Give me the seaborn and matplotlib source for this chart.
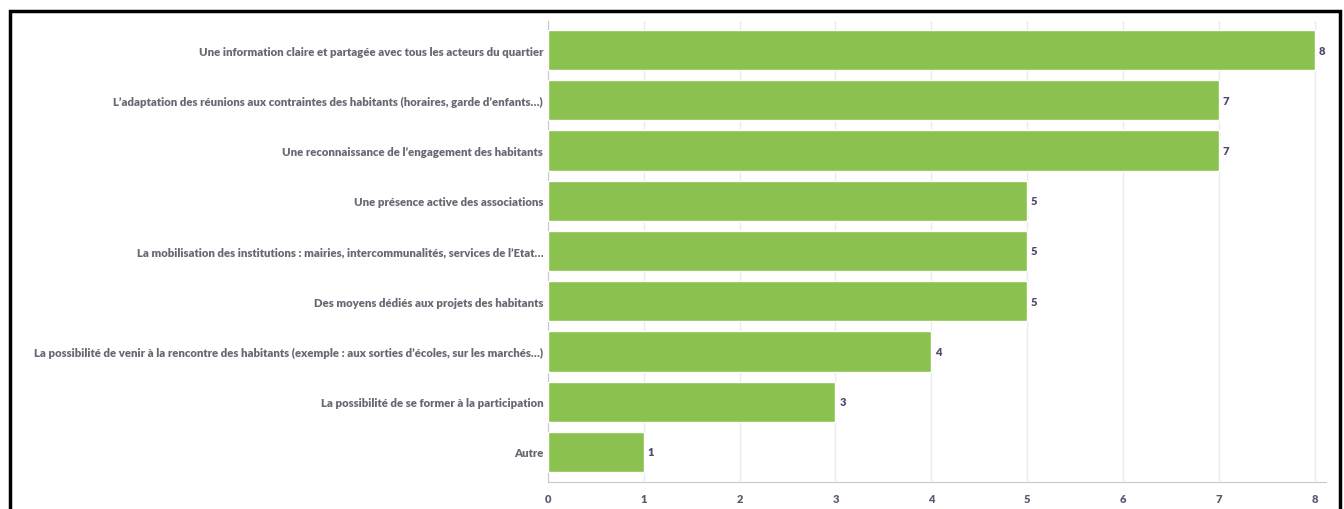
import matplotlib
matplotlib.use("Agg")
import matplotlib.pyplot as plt
import seaborn as sns
import pandas as pd
from matplotlib.patches import Rectangle

# réponses (libellés) et nombre de citations
categories = [
    "Une information claire et partagée avec tous les acteurs du quartier",
    "L’adaptation des réunions aux contraintes des habitants (horaires, garde d’enfants…)",
    "Une reconnaissance de l’engagement des habitants",
    "Une présence active des associations",
    "La mobilisation des institutions : mairies, intercommunalités, services de l’Etat…",
    "Des moyens dédiés aux projets des habitants",
    "La possibilité de venir à la rencontre des habitants (exemple : aux sorties d’écoles, sur les marchés…)",
    "La possibilité de se former à la participation",
    "Autre",
]
counts = [8, 7, 7, 5, 5, 5, 4, 3, 1]
x_ticks = [0, 1, 2, 3, 4, 5, 6, 7, 8]

df = pd.DataFrame({"reponse": categories, "nb": counts})

sns.set_style("white")
plt.rcParams["font.family"] = ["Lato", "DejaVu Sans"]
plt.rcParams["font.weight"] = "heavy"

fig = plt.figure(figsize=(13.44, 5.1), dpi=100)
ax = fig.add_axes([548 / 1344, 1 - 483 / 510, (1326 - 548) / 1344, (483 - 22) / 510])

sns.barplot(data=df, x="nb", y="reponse", color="#8bc14e", saturation=1,
            width=0.8, ax=ax, zorder=3)

ax.set_xlim(0, 8.12)
ax.set_ylim(8.6, -0.58)
ax.set_xticks(x_ticks)
ax.set_xlabel("")
ax.set_ylabel("")
ax.grid(axis="x", color="#ebebeb", lw=1, zorder=0)
for s in ["top", "right"]:
    ax.spines[s].set_visible(False)
ax.spines["left"].set_color("#c8c8d0")
ax.spines["bottom"].set_color("#c8c8d0")
ax.tick_params(axis="y", length=0, pad=3.5, labelsize=8.2, labelcolor="#686874")
ax.tick_params(axis="x", length=0, pad=8, labelsize=8, labelcolor="#5a5a6e")
for lab in ax.get_yticklabels() + ax.get_xticklabels():
    lab.set_fontweight("heavy")

for i, v in enumerate(counts):
    ax.text(v + 0.04, i, str(v), va="center", ha="left", fontsize=8,
            fontweight="heavy", color="#4a4a6a")

# cadre noir autour de la figure
fig.patches.append(Rectangle((10 / 1344, -0.05), 1330 / 1344, 1 - 11.5 / 510 + 0.05,
                             transform=fig.transFigure, fill=False,
                             edgecolor="black", lw=2.5))

fig.savefig("out.png", dpi=100, facecolor="white")
